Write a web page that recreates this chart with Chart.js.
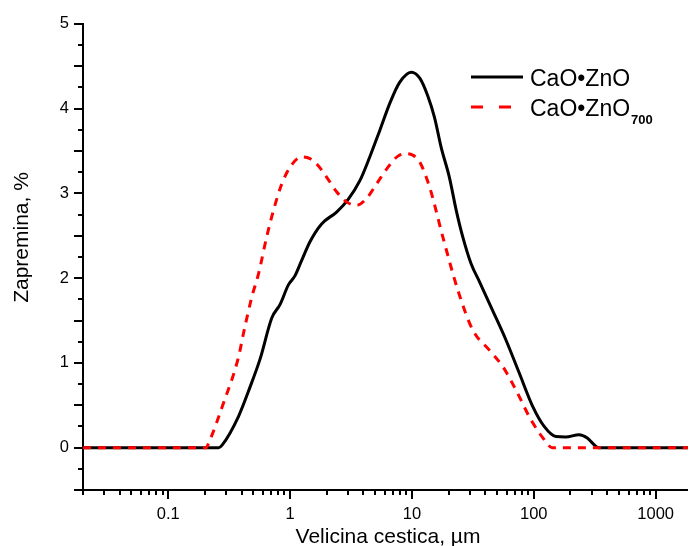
<!DOCTYPE html>
<html>
<head>
<meta charset="utf-8">
<script src="https://cdn.jsdelivr.net/npm/chart.js@4"></script>
<style>
  html, body { margin: 0; padding: 0; background: #fff; }
  canvas { display: block; }
</style>
</head>
<body>
<canvas id="psdChart" width="689" height="546"></canvas>
<script>
// particle size (um) and volume (%)
const sizesPlain = [0.02, 0.26, 0.277, 0.378, 0.471, 0.569, 0.708, 0.829, 0.969, 1.099, 1.246, 1.457, 1.815, 2.41, 3.0, 3.74, 4.51, 5.44, 6.57, 7.93, 9.89, 11.6, 13.5, 15.3, 17.4, 20.3, 23.1, 26.1, 30.6, 35.8, 45.9, 59.1, 76.0, 97.7, 121.7, 151.8, 183, 235, 275, 312, 340, 1840];
const volumePlain = [0, 0, 0.03, 0.37, 0.72, 1.05, 1.53, 1.69, 1.92, 2.03, 2.21, 2.43, 2.64, 2.78, 2.93, 3.15, 3.43, 3.74, 4.06, 4.31, 4.43, 4.36, 4.15, 3.9, 3.54, 3.19, 2.8, 2.49, 2.17, 1.96, 1.62, 1.27, 0.88, 0.49, 0.25, 0.13, 0.125, 0.153, 0.114, 0.035, 0, 0];

const sizes700 = [0.02, 0.205, 0.215, 0.285, 0.378, 0.415, 0.486, 0.551, 0.644, 0.731, 0.855, 1.0, 1.245, 1.457, 1.65, 2.0, 2.41, 2.91, 3.51, 4.24, 5.12, 6.37, 7.68, 9.0, 10.2, 11.6, 14.0, 17.9, 23.8, 31.5, 43.2, 55.5, 71.4, 94.7, 125.6, 141, 1840];
const volume700 = [0, 0, 0.055, 0.53, 1.07, 1.35, 1.78, 2.05, 2.49, 2.8, 3.11, 3.31, 3.43, 3.41, 3.35, 3.19, 3.02, 2.9, 2.86, 2.94, 3.11, 3.31, 3.44, 3.47, 3.45, 3.37, 3.07, 2.49, 1.86, 1.39, 1.15, 0.96, 0.68, 0.33, 0.07, 0, 0];

const xTickValues = [0.1, 1, 10, 100, 1000];
const yTickValues = [0, 1, 2, 3, 4, 5];

const FONT = 'Liberation Sans, Arial, sans-serif';

function toPoints(xs, ys) {
    return xs.map((v, i) => ({ x: v, y: ys[i] }));
}

// tick marks, axis titles and legend
const axisDecor = {
    id: 'axisDecor',
    afterDraw(chart) {
        const { ctx, chartArea: a, scales: { x, y } } = chart;
        ctx.save();
        ctx.strokeStyle = '#000';
        ctx.lineWidth = 2;
        ctx.beginPath();
        for (let i = -2; i <= 20; i++) {
            const py = Math.round(y.getPixelForValue(i * 0.25));
            const len = i % 2 === 0 ? 9 : 5;
            ctx.moveTo(a.left - len, py);
            ctx.lineTo(a.left, py);
        }
        for (let d = -2; d <= 3; d++) {
            for (let m = 1; m <= 9; m++) {
                const v = m * Math.pow(10, d);
                if (v < x.min || v > x.max) continue;
                const px = Math.round(x.getPixelForValue(v));
                ctx.moveTo(px, a.bottom);
                ctx.lineTo(px, a.bottom + (m === 1 ? 9 : 5));
            }
        }
        ctx.stroke();

        ctx.fillStyle = '#000';
        ctx.font = '21px ' + FONT;
        ctx.textAlign = 'center';
        ctx.textBaseline = 'alphabetic';
        ctx.fillText('Velicina cestica, \u00b5m', 388, 543);
        ctx.save();
        ctx.translate(28, 237.5);
        ctx.rotate(-Math.PI / 2);
        ctx.fillText('Zapremina, %', 0, 0);
        ctx.restore();

        // legend
        ctx.lineWidth = 3;
        ctx.beginPath();
        ctx.moveTo(471, 77);
        ctx.lineTo(523, 77);
        ctx.stroke();
        ctx.strokeStyle = '#ff0000';
        ctx.setLineDash([12, 16]);
        ctx.beginPath();
        ctx.moveTo(471, 107);
        ctx.lineTo(523, 107);
        ctx.stroke();
        ctx.setLineDash([]);

        ctx.textAlign = 'left';
        ctx.font = '23px ' + FONT;
        ctx.fillText('CaO\u2022ZnO', 530, 86);
        ctx.fillText('CaO\u2022ZnO', 530, 116);
        const w = ctx.measureText('CaO\u2022ZnO').width;
        ctx.font = 'bold 13px ' + FONT;
        ctx.fillText('700', 530 + w + 1, 124);
        ctx.restore();
    }
};

const ctx = document.getElementById('psdChart').getContext('2d');

new Chart(ctx, {
    type: 'line',
    data: {
        datasets: [
            {
                label: 'CaO\u2022ZnO',
                data: toPoints(sizesPlain, volumePlain),
                borderColor: '#000000',
                borderWidth: 3,
                cubicInterpolationMode: 'monotone',
                fill: false,
                pointRadius: 0,
                order: 2
            },
            {
                label: 'CaO\u2022ZnO700',
                data: toPoints(sizes700, volume700),
                borderColor: '#ff0000',
                borderWidth: 3,
                borderDash: [8, 7],
                cubicInterpolationMode: 'monotone',
                fill: false,
                pointRadius: 0,
                order: 1
            }
        ]
    },
    options: {
        responsive: false,
        animation: false,
        devicePixelRatio: 1,
        layout: {
            padding: { top: 23, left: 0, right: 0, bottom: 0 }
        },
        plugins: {
            legend: { display: false },
            tooltip: { enabled: false }
        },
        scales: {
            x: {
                type: 'logarithmic',
                min: 0.02,
                max: 1840,
                afterBuildTicks(scale) {
                    scale.ticks = xTickValues.map(v => ({ value: v }));
                },
                afterFit(scale) {
                    scale.height = 56;
                },
                grid: { display: false, drawTicks: false },
                border: { display: true, color: '#000', width: 2 },
                ticks: {
                    color: '#000',
                    font: { family: FONT, size: 16.5 },
                    padding: 15,
                    maxRotation: 0,
                    autoSkip: false,
                    callback: v => String(v)
                }
            },
            y: {
                type: 'linear',
                min: -0.5,
                max: 5,
                afterBuildTicks(scale) {
                    scale.ticks = yTickValues.map(v => ({ value: v }));
                },
                afterFit(scale) {
                    scale.width = 83;
                },
                grid: { display: false, drawTicks: false },
                border: { display: true, color: '#000', width: 2 },
                ticks: {
                    color: '#000',
                    font: { family: FONT, size: 16.5 },
                    padding: 14,
                    autoSkip: false,
                    callback: v => String(v)
                }
            }
        }
    },
    plugins: [axisDecor]
});
</script>
</body>
</html>
